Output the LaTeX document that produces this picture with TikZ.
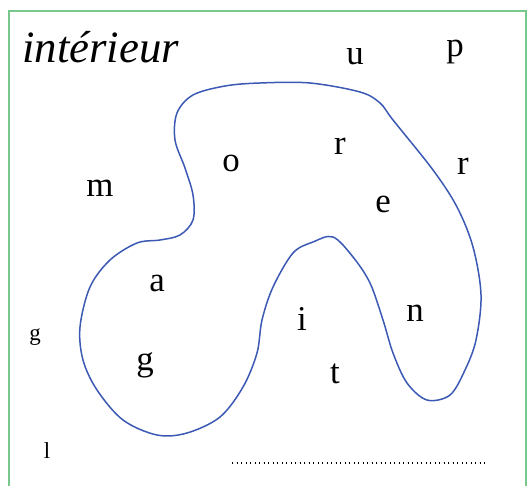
\documentclass[tikz,border=0pt]{standalone}
\usepackage{fontspec}
\setmainfont{Liberation Serif}
\definecolor{framegreen}{RGB}{120,200,140}
\definecolor{curveblue}{RGB}{60,90,180}
\begin{document}
\begin{tikzpicture}[x=1bp,y=-1bp,
  letter/.style={anchor=base,inner sep=0pt,font=\fontsize{35}{35}\selectfont},
  smallletter/.style={anchor=base,inner sep=0pt,font=\fontsize{23}{23}\selectfont}]
\useasboundingbox (0,0) rectangle (528,486);
\fill[white] (0,0) rectangle (528,486);
% frame
\draw[framegreen,line width=2bp] (9,486) -- (9,11) -- (526,11) -- (526,486);
% title
\node[anchor=base west,inner sep=0pt,font=\fontsize{45}{45}\selectfont\itshape] (title) at (22,63) {intérieur};
% curve
\draw[curveblue,line width=1.5bp] plot[smooth cycle,tension=0.55] coordinates {
 (260,83) (310,83) (360,92) (380,103) (393,120) (433,170) (457,207) (473,247)
 (481,295) (476,340) (465,370) (450,395) (427,400) (407,383) (393,353) (383,320)
 (370,283) (353,257) (333,237) (313,242) (293,253) (273,287) (262,320) (257,353)
 (243,387) (220,417) (187,433) (157,435) (123,420) (97,390) (83,360) (80,327)
 (90,287) (110,260) (137,243) (160,240) (180,235) (193,220) (193,195) (185,168)
 (175,140) (177,113) (193,95) (225,86)};
% letters
\node[letter] (u) at (355,65) {u};
\node[letter] (p) at (455,57) {p};
\node[letter] (o) at (231,172) {o};
\node[letter] (r1) at (340,155) {r};
\node[letter] (r2) at (463,175) {r};
\node[letter] (m) at (100,197) {m};
\node[letter] (e) at (383,212) {e};
\node[letter] (a) at (157,291) {a};
\node[smallletter] (gs) at (35,340) {g};
\node[letter] (g) at (145,370) {g};
\node[letter] (i) at (302,330) {i};
\node[letter] (n) at (415,321) {n};
\node[letter] (t) at (335,383) {t};
\node[smallletter] (l) at (47,458) {l};
% dotted line
\coordinate (d1) at (232,463);
\coordinate (d2) at (487,463);
\draw[line width=1.3bp,dash pattern=on 1.3bp off 3.2bp] (d1) -- (d2);
\end{tikzpicture}
\end{document}
